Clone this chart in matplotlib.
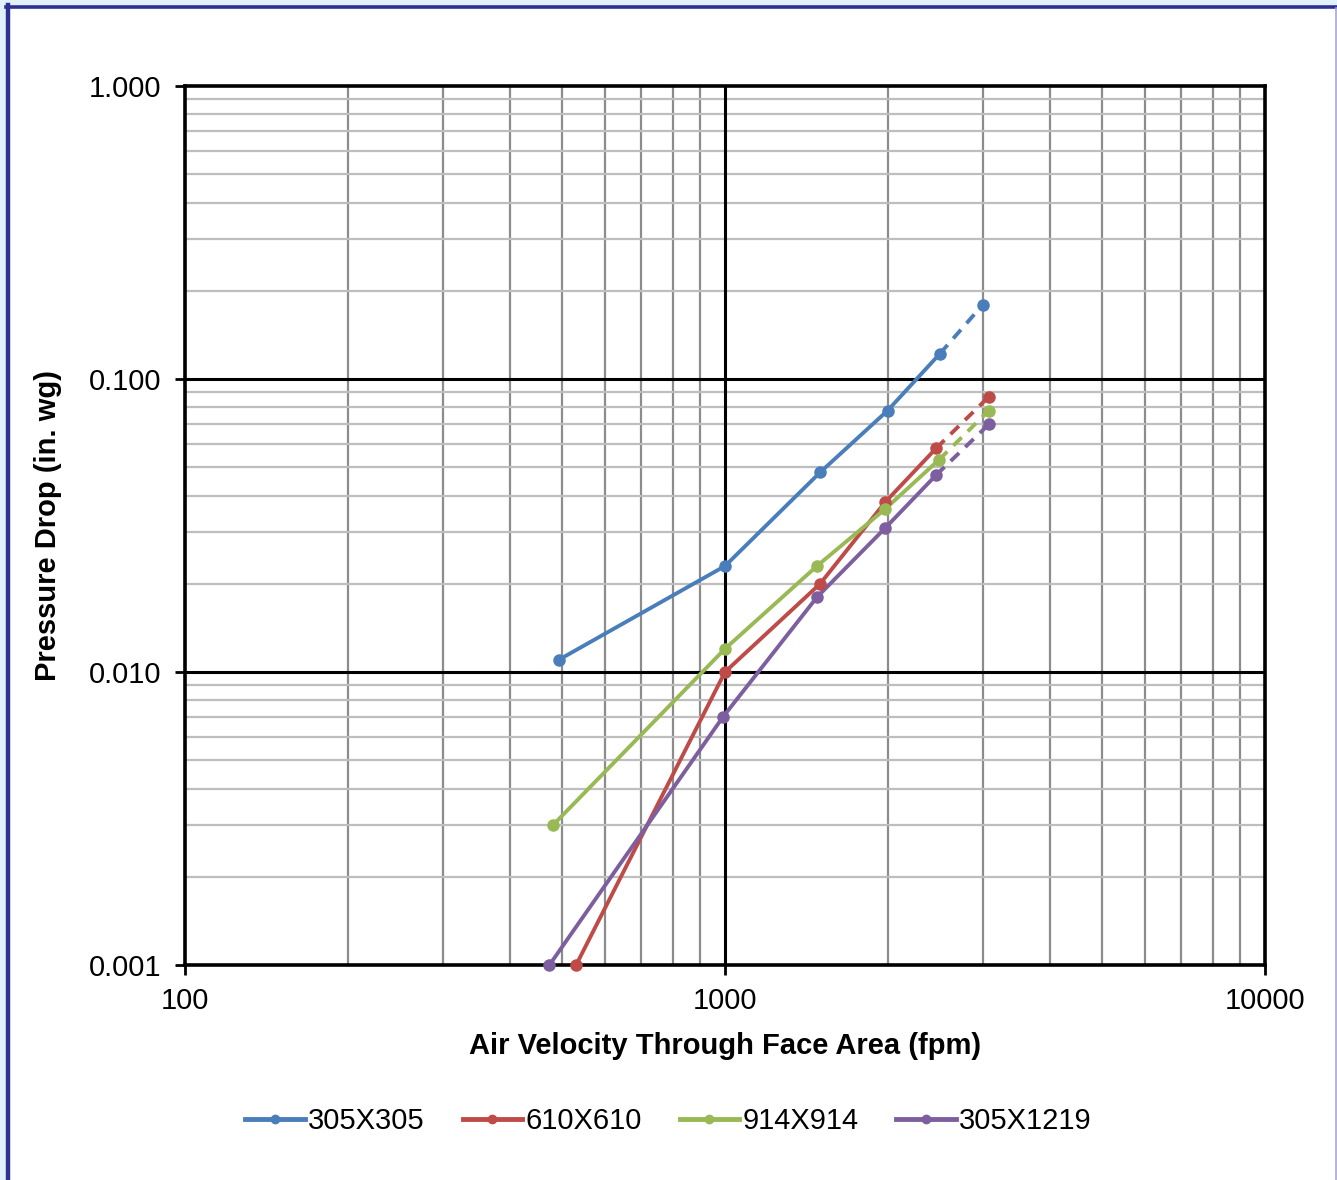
import numpy as np
import matplotlib.pyplot as plt
from matplotlib.patches import Rectangle
from matplotlib.lines import Line2D
from matplotlib.ticker import FixedLocator, NullFormatter

# ----------------------------------------------------------------------
# data
# ----------------------------------------------------------------------

series_names = ["305X305", "610X610", "914X914", "305X1219"]
series_colors = ["#4A7EBB", "#BE4B48", "#98B954", "#7D5FA0"]

vel_305x305 = [492, 1000, 1500, 2000, 2500, 3000]
dp_305x305 = [0.011, 0.023, 0.048, 0.078, 0.122, 0.179]

vel_610x610 = [530, 1000, 1500, 1980, 2460, 3080]
dp_610x610 = [0.001, 0.010, 0.020, 0.038, 0.058, 0.087]

vel_914x914 = [480, 1000, 1480, 1980, 2490, 3080]
dp_914x914 = [0.003, 0.012, 0.023, 0.036, 0.053, 0.078]

vel_305x1219 = [473, 990, 1480, 1980, 2460, 3080]
dp_305x1219 = [0.001, 0.007, 0.018, 0.031, 0.047, 0.070]

velocities = [vel_305x305, vel_610x610, vel_914x914, vel_305x1219]
drops = [dp_305x305, dp_610x610, dp_914x914, dp_305x1219]

x_ticks = [100, 1000, 10000]
x_tick_labels = ["100", "1000", "10000"]
y_ticks = [0.001, 0.01, 0.1, 1.0]
y_tick_labels = ["0.001", "0.010", "0.100", "1.000"]

# ----------------------------------------------------------------------
# figure
# ----------------------------------------------------------------------

W, H = 1337, 1180
FS = 21
fig = plt.figure(figsize=(W / 100, H / 100), dpi=100, facecolor="#E3F1FB")
plt.rcParams["font.family"] = ["Liberation Sans", "DejaVu Sans"]

# white chart area with dark blue frame on the left and top
fig.patches.append(Rectangle((8 / W, 0), 1 - 8 / W, 1 - 6.5 / H, transform=fig.transFigure,
                             facecolor="white", edgecolor="none", zorder=-2))
fig.add_artist(Line2D([8 / W, 8 / W], [0, 1 - 5 / H], transform=fig.transFigure,
                      color="#2E3192", linewidth=3.2))
fig.add_artist(Line2D([6 / W, 1], [1 - 6.5 / H, 1 - 6.5 / H], transform=fig.transFigure,
                      color="#2E3192", linewidth=2.6))
fig.add_artist(Line2D([1 - 1 / W, 1 - 1 / W], [0, 1 - 8 / H], transform=fig.transFigure,
                      color="#A9A6D6", linewidth=1.2))

ax = fig.add_axes([185 / W, 1 - 965 / H, 1080 / W, 879 / H])
ax.set_xscale("log")
ax.set_yscale("log")
ax.set_xlim(100, 10000)
ax.set_ylim(0.001, 1.0)

# grid: black decades, grey in between
minor_x = [m * d for d in (100, 1000) for m in range(2, 10)]
minor_y = [m * d for d in (0.001, 0.01, 0.1) for m in range(2, 10)]
for v in minor_x:
    ax.axvline(v, color="#8C8C8C", linewidth=1.6, zorder=1)
for v in minor_y:
    ax.axhline(v, color="#BEBEBE", linewidth=1.6, zorder=1)
for v in x_ticks[1:-1]:
    ax.axvline(v, color="black", linewidth=2.2, zorder=1.5)
for v in y_ticks[1:-1]:
    ax.axhline(v, color="black", linewidth=2.2, zorder=1.5)

ax.xaxis.set_major_locator(FixedLocator(x_ticks))
ax.yaxis.set_major_locator(FixedLocator(y_ticks))
ax.set_xticklabels(x_tick_labels)
ax.set_yticklabels(y_tick_labels)
ax.xaxis.set_minor_locator(FixedLocator([]))
ax.yaxis.set_minor_locator(FixedLocator([]))
ax.xaxis.set_minor_formatter(NullFormatter())
ax.yaxis.set_minor_formatter(NullFormatter())
ax.tick_params(axis="both", which="major", length=7, width=2, labelsize=FS)
ax.tick_params(axis="y", pad=10)
ax.tick_params(axis="x", pad=9)

for side in ("top", "right", "left", "bottom"):
    ax.spines[side].set_linewidth(2.6)
    ax.spines[side].set_color("black")

# series: solid to the 2500 fpm point, dashed to the last point
handles = []
for name, color, xs, ys in zip(series_names, series_colors, velocities, drops):
    ax.plot(xs[:-1], ys[:-1], color=color, linewidth=2.8, zorder=3, clip_on=False)
    ax.plot(xs[-2:], ys[-2:], color=color, linewidth=2.8, linestyle=(0, (3, 2.2)),
            zorder=3, clip_on=False)
    ax.plot(xs, ys, linestyle="none", marker="o", markersize=8, color=color,
            zorder=4, clip_on=False)
    handles.append(Line2D([], [], color=color, linewidth=3.5, marker="o", markersize=6,
                          label=name))

ax.set_xlabel("Air Velocity Through Face Area (fpm)", fontsize=FS, fontweight="bold",
              labelpad=12)
ax.set_ylabel("Pressure Drop (in. wg)", fontsize=FS, fontweight="bold", labelpad=19)

fig.legend(handles=handles, loc="center", bbox_to_anchor=(0.5, 1 - 1121 / H), ncol=4,
           frameon=False, fontsize=FS, handlelength=2.05, handletextpad=0.1,
           columnspacing=1.3)

fig.savefig("out.png", dpi=100, facecolor=fig.get_facecolor())
